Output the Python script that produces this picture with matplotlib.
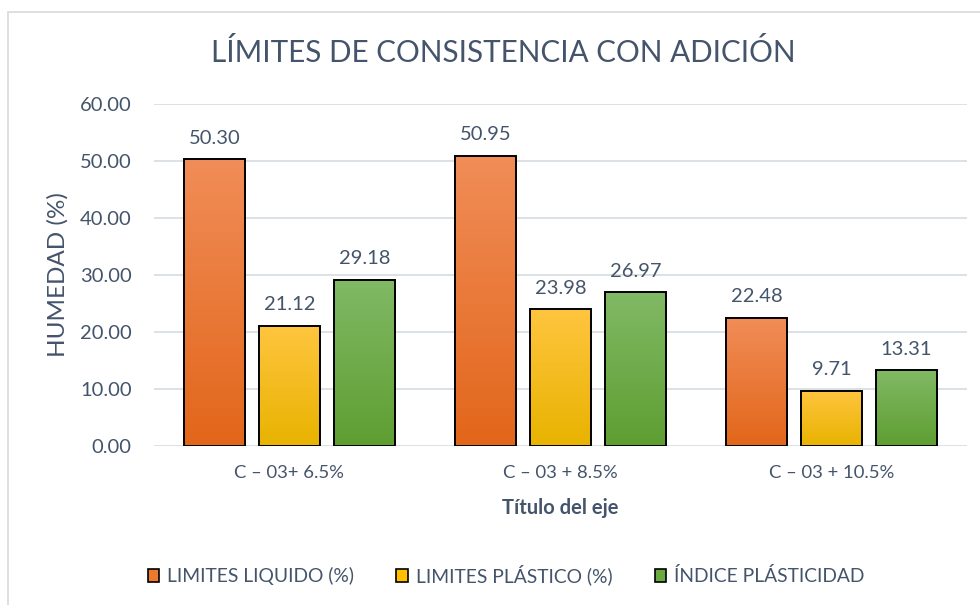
import matplotlib.pyplot as plt
import numpy as np
from matplotlib.colors import LinearSegmentedColormap
from matplotlib.patches import Rectangle

categories = ['C – 03+ 6.5%', 'C – 03 + 8.5%', 'C – 03 + 10.5%']
series_names = ['LIMITES LIQUIDO (%)', 'LIMITES PLÁSTICO (%)', 'ÍNDICE PLÁSTICIDAD']
liquido = [50.30, 50.95, 22.48]
plastico = [21.12, 23.98, 9.71]
indice = [29.18, 26.97, 13.31]

# gradient colours (bottom, top) per series
grad_colors = [('#E2661A', '#F18D58'), ('#E8B300', '#FFC53F'), ('#5E9E31', '#81B965')]
legend_colors = ['#EE7A30', '#FFC000', '#6AAA40']
text_color = '#44546A'
grid_color = '#D9DEE4'

plt.rcParams['font.family'] = ['Lato', 'DejaVu Sans']

fig = plt.figure(figsize=(9.8, 6.05), dpi=100)
ax = fig.add_axes([154 / 980, 1 - 446 / 605, (967 - 154) / 980, (446 - 104) / 605])

# chart border
fig.patches.append(Rectangle((8 / 980, -0.01), 1.0, 1 - 12 / 605 + 0.01,
                             transform=fig.transFigure, fill=False,
                             edgecolor='#D9D9D9', lw=1.2))

x = np.arange(len(categories))
width = 0.225
offset = 0.277

ax.set_xlim(-0.5, len(categories) - 0.5)
ax.set_ylim(0, 60)

grad = np.linspace(0, 1, 256).reshape(-1, 1)
for i, (vals, (c0, c1)) in enumerate(zip([liquido, plastico, indice], grad_colors)):
    pos = x + (i - 1) * offset
    bars = ax.bar(pos, vals, width, color='none', edgecolor='black', lw=1.4, zorder=3)
    cmap = LinearSegmentedColormap.from_list('g%d' % i, [c0, c1])
    for b, v in zip(bars, vals):
        x0 = b.get_x()
        im = ax.imshow(grad, extent=(x0, x0 + width, 0, v), origin='lower',
                       cmap=cmap, aspect='auto', zorder=2)
        im.set_clip_path(b)
        ax.annotate('%.2f' % v, (b.get_x() + width / 2, v), xytext=(0, 9),
                    textcoords='offset points', ha='center', va='bottom',
                    fontsize=14.5, color=text_color)

ax.set_xlim(-0.5, len(categories) - 0.5)
ax.set_ylim(0, 60)
ax.set_yticks(np.arange(0, 61, 10))
ax.set_yticklabels(['%.2f' % t for t in np.arange(0, 61, 10)])
ax.set_xticks(x)
ax.set_xticklabels(categories)
ax.tick_params(length=0, colors=text_color)
ax.tick_params(axis='y', pad=16, labelsize=14.5)
ax.tick_params(axis='x', pad=14, labelsize=13.3)
ax.grid(axis='y', color=grid_color, lw=1.3, zorder=0)
ax.set_axisbelow(True)
for s in ax.spines.values():
    s.set_visible(False)

ax.set_ylabel('HUMEDAD (%)', fontsize=17.5, color=text_color, labelpad=8)
ax.set_xlabel('Título del eje', fontsize=14.5, color=text_color, fontweight='bold', labelpad=12)
fig.text(503 / 980, 1 - 52 / 605, 'LÍMITES DE CONSISTENCIA CON ADICIÓN',
         ha='center', va='center', fontsize=21.3, color=text_color)

handles = [Rectangle((0, 0), 1, 1, facecolor=c, edgecolor='black', lw=1.2) for c in legend_colors]
fig.legend(handles, series_names, loc='center', bbox_to_anchor=(506 / 980, 1 - 575 / 605),
           ncol=3, frameon=False, fontsize=13.9, labelcolor=text_color,
           handlelength=0.6, handleheight=0.6, handletextpad=0.4, columnspacing=2.2)

fig.savefig('out.png', dpi=100)
